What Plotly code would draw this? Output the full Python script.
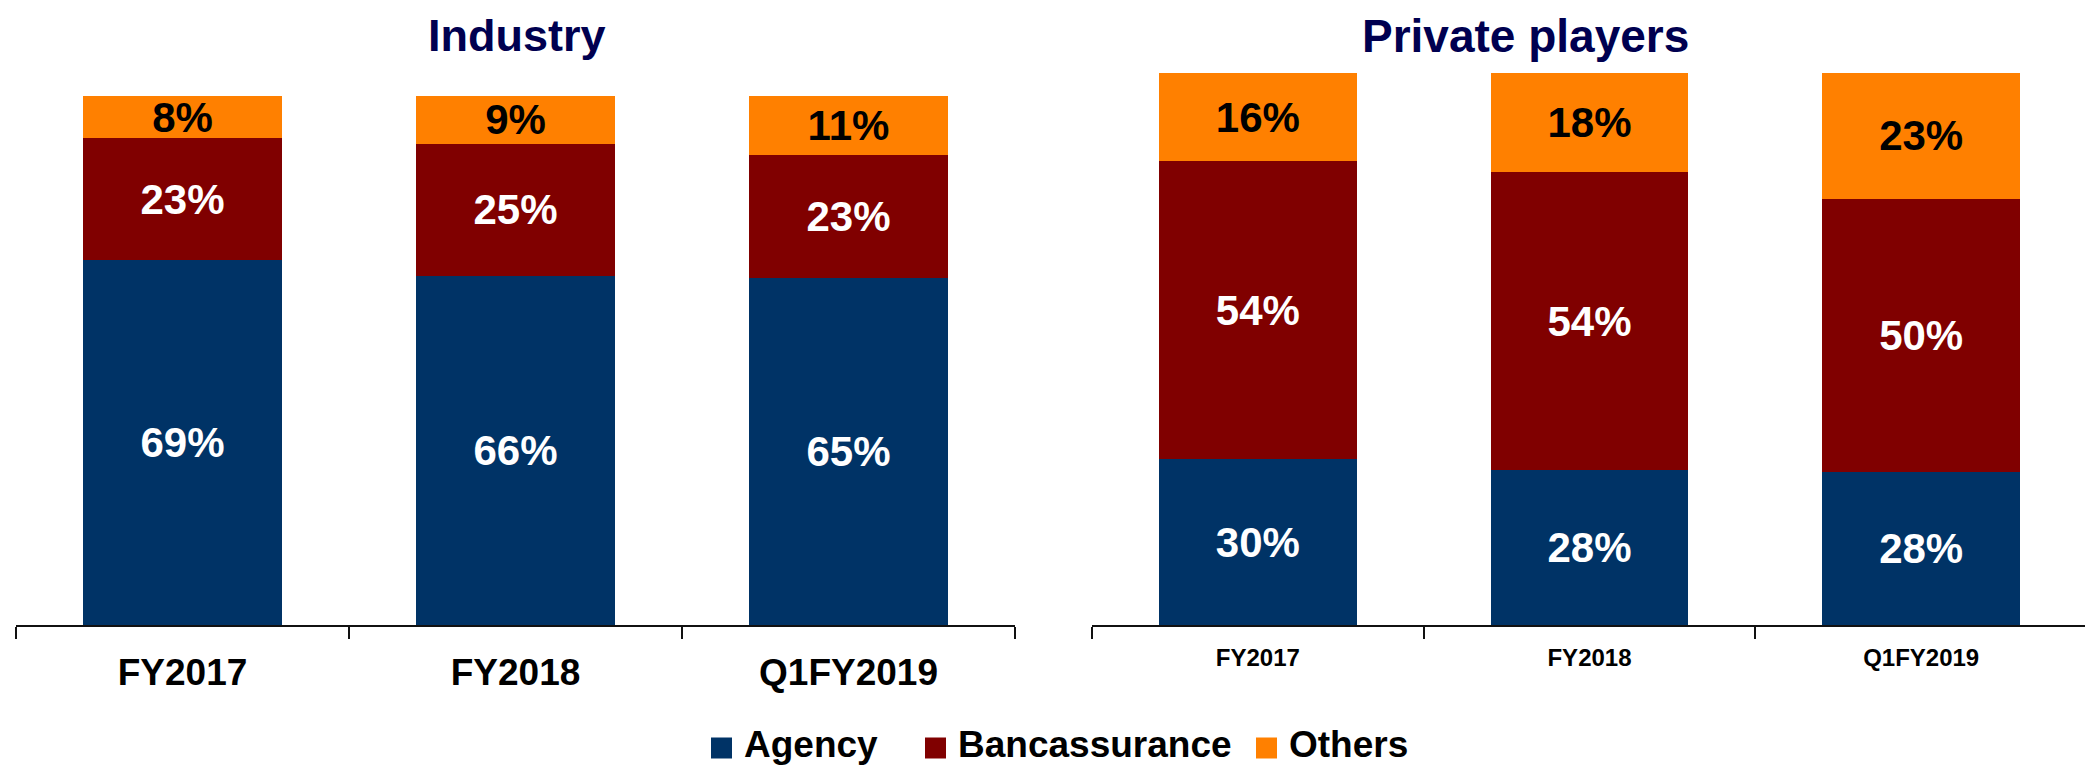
import plotly.graph_objects as go

categories = ["FY2017", "FY2018", "Q1FY2019"]
series_names = ["Agency", "Bancassurance", "Others"]
industry_agency = [69, 66, 65]
industry_banca = [23, 25, 23]
industry_others = [8, 9, 11]
private_agency = [30, 28, 28]
private_banca = [54, 54, 50]
private_others = [16, 18, 23]
panel_titles = ["Industry", "Private players"]

colors = {"Agency": "#003366", "Bancassurance": "#800000", "Others": "#FF8000"}
text_colors = {"Agency": "white", "Bancassurance": "white", "Others": "black"}

FONT = "Liberation Sans, Arial, sans-serif"
# the page body adds an 8px margin, so the figure is sized to the window minus that offset
W, H = 2085, 759

fig = go.Figure()

panels = [
    ("x", "y", [industry_agency, industry_banca, industry_others]),
    ("x2", "y2", [private_agency, private_banca, private_others]),
]
for xa, ya, vals in panels:
    for name, v in zip(series_names, vals):
        fig.add_trace(go.Bar(
            x=categories, y=v, name=name, xaxis=xa, yaxis=ya,
            marker=dict(color=colors[name], line=dict(width=0)),
            text=[f"{t}%" for t in v], textposition="inside",
            insidetextanchor="middle",
            textfont=dict(family=FONT, size=42, color=text_colors[name], weight="bold"),
            showlegend=False, hoverinfo="skip",
        ))

# custom legend (large square swatches, as in the original)
legend_square_left = [703, 917, 1248]   # px from figure left
legend_text_left = [734, 948, 1279]
sq = 21
legend_cy = 740
shapes = []
annotations = []
for name, sx, tx in zip(series_names, legend_square_left, legend_text_left):
    shapes.append(dict(type="rect", xref="paper", yref="paper",
                       x0=sx / W, x1=(sx + sq) / W,
                       y0=1 - (legend_cy + sq / 2) / H, y1=1 - (legend_cy - sq / 2) / H,
                       fillcolor=colors[name], line=dict(width=0)))
    annotations.append(dict(text=name, x=tx / W, y=0, xref="paper", yref="paper",
                            showarrow=False, xanchor="left", yanchor="bottom",
                            font=dict(family=FONT, size=37, color="black", weight="bold")))

annotations += [
    dict(text=panel_titles[0], x=0.24436, y=1.0, xref="paper", yref="paper",
         showarrow=False, xanchor="center", yanchor="top",
         font=dict(family=FONT, size=45, color="#000050", weight="bold")),
    dict(text=panel_titles[1], x=0.72758, y=1.0, xref="paper", yref="paper",
         showarrow=False, xanchor="center", yanchor="top",
         font=dict(family=FONT, size=46, color="#000050", weight="bold")),
]

axis_common = dict(
    type="category", range=[-0.5, 2.5], showline=True, linecolor="#111",
    linewidth=1.5, ticks="outside", tickson="boundaries", ticklen=12,
    tickwidth=1.5, tickcolor="#111", showgrid=False, zeroline=False,
    automargin=False, fixedrange=True,
)
fig.update_layout(
    width=W, height=H,
    margin=dict(l=0, r=0, t=0, b=0),
    paper_bgcolor="white", plot_bgcolor="white",
    barmode="stack", barnorm="percent", bargap=0.405,
    font=dict(family=FONT, color="black"),
    uniformtext=dict(minsize=42, mode="show"),
    showlegend=False,
    xaxis=dict(domain=[0.003837, 0.48297], anchor="y", ticklabelstandoff=14,
               tickfont=dict(family=FONT, size=37, color="black", weight="bold"),
               **axis_common),
    xaxis2=dict(domain=[0.51990, 0.99712], anchor="y2", ticklabelstandoff=10,
                tickfont=dict(family=FONT, size=24, color="black", weight="bold"),
                **axis_common),
    yaxis=dict(domain=[0.18709, 0.88406], range=[0, 100], visible=False, fixedrange=True),
    yaxis2=dict(domain=[0.18709, 0.91436], range=[0, 100], visible=False, fixedrange=True),
    shapes=shapes,
    annotations=annotations,
)

fig.write_html("out.html")
